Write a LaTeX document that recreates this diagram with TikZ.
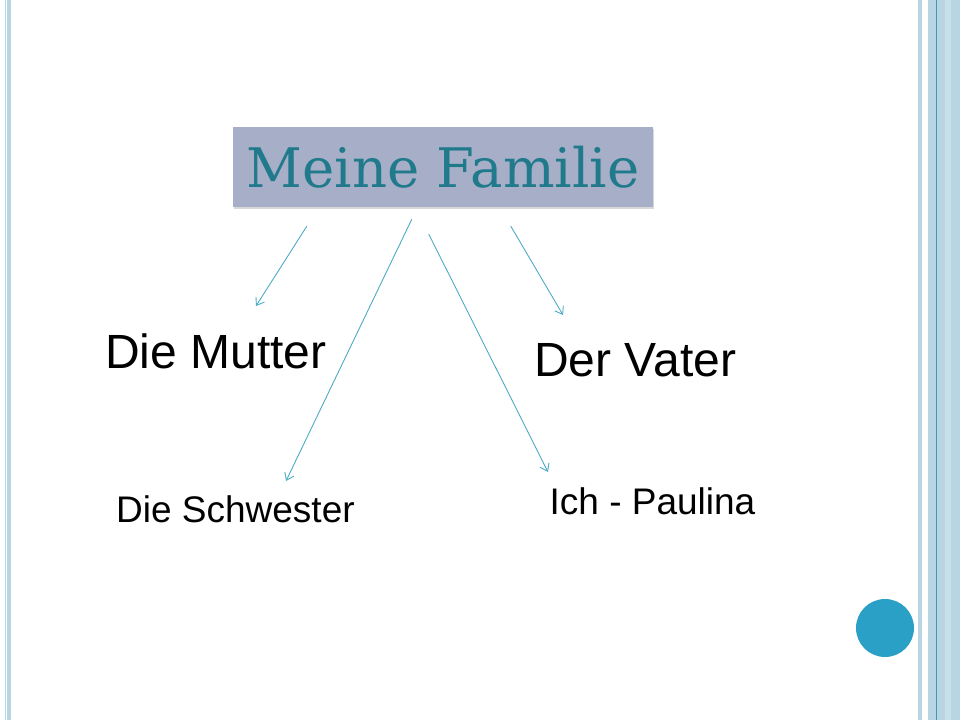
\documentclass[tikz,border=0pt]{standalone}
\usepackage{fontspec}
\setmainfont{Liberation Sans}
\newfontfamily\titlefont{DejaVu Serif}
\usetikzlibrary{arrows.meta, calc, shadows}

\definecolor{borderblue}{RGB}{183,213,226}
\definecolor{borderdark}{RGB}{70,150,172}
\definecolor{borderlight}{RGB}{198,224,234}
\definecolor{titlefill}{RGB}{166,175,199}
\definecolor{titletext}{RGB}{32,122,140}
\definecolor{arrowteal}{RGB}{78,172,198}
\definecolor{dotblue}{RGB}{42,160,198}

\begin{document}
\begin{tikzpicture}[x=1pt, y=-1pt,
      titlebox/.style={fill=titlefill, minimum width=420pt, minimum height=80pt, inner sep=0pt,
        text=titletext, font=\titlefont\fontsize{54.5}{60}\selectfont,
        drop shadow={shadow xshift=1pt, shadow yshift=-1.5pt, fill=black!30, opacity=0.5}},
      biglabel/.style={anchor=base west, inner sep=0pt, font=\fontsize{48}{56}\selectfont},
      smalllabel/.style={anchor=base west, inner sep=0pt, font=\fontsize{37}{42}\selectfont},
      arrow/.style={-{Straight Barb[length=7pt, width=10pt]}, draw=arrowteal, line width=0.9pt}
    ]

      % page and margins
      \fill[white] (0,0) rectangle (960,720);
      \useasboundingbox (0,0) rectangle (960,720);

      % left border stripes
      \fill[borderblue] (5,0) rectangle (6.3,720);
      \fill[borderblue] (7,0) rectangle (11,720);

      % right border stripes
      \fill[borderblue] (917.7,0) rectangle (921.7,720);
      \fill[borderblue] (928,0) rectangle (960,720);
      \fill[borderlight] (945,0) rectangle (951,720);
      \draw[borderdark, line width=0.9pt] (936.5,0) -- (936.5,720);

      % round dot
      \fill[dotblue] (885,628) circle (29);

      % title
      \node[titlebox] (title) at (443,167) {Meine Familie};

      % family members
      \node[biglabel] (mutter) at (105,368) {Die Mutter};
      \node[biglabel] (vater) at (534,376) {Der Vater};
      \node[smalllabel] (schwester) at (116,522) {Die Schwester};
      \node[smalllabel] (ich) at (549.5,514) {Ich - Paulina};

      % arrows from title to members
      \draw[arrow] ($(title.south west)+(74,19)$) -- ($(mutter.base west)+(151,-62)$);
      \draw[arrow] ($(title.south west)+(179,12)$) -- ($(schwester.base west)+(170,-41)$);
      \draw[arrow] ($(title.south west)+(196,27)$) -- ($(ich.base west)+(-1.5,-42)$);
      \draw[arrow] ($(title.south west)+(278,19)$) -- ($(vater.base west)+(29,-61)$);

    \end{tikzpicture}
\end{document}
